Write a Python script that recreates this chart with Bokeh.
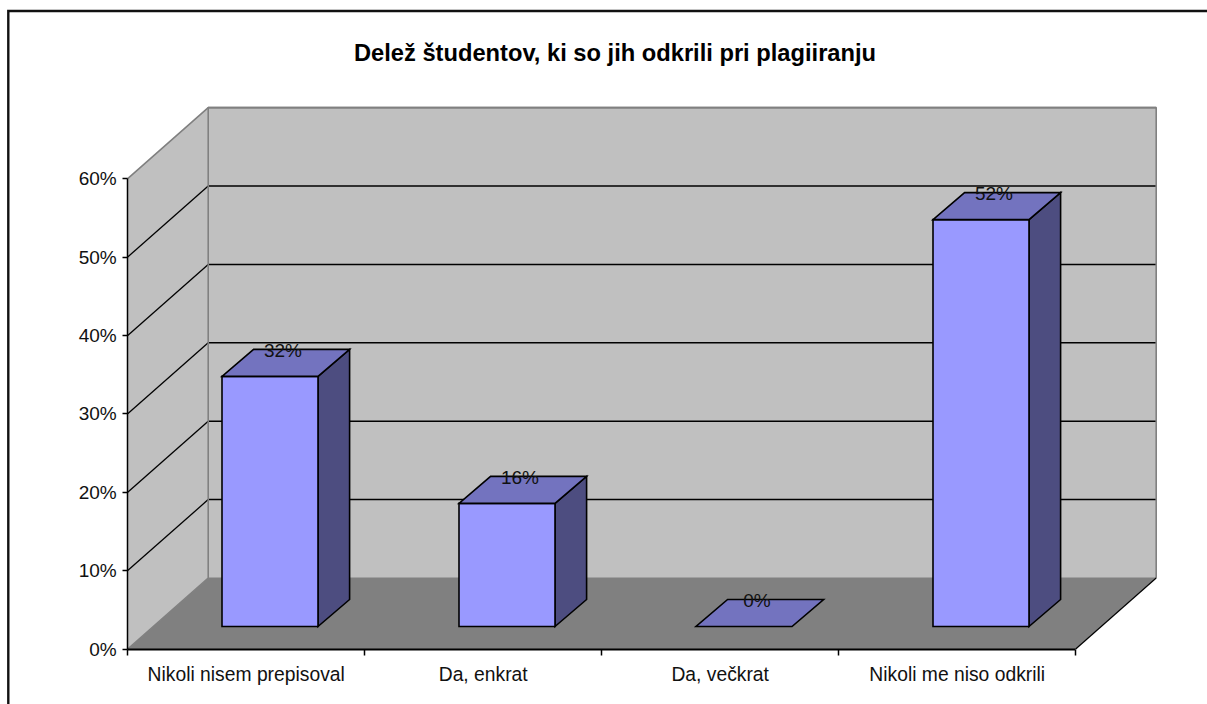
from bokeh.embed import file_html
from bokeh.resources import INLINE
from bokeh.plotting import figure
from bokeh.models import FixedTicker, PrintfTickFormatter, Range1d, Label, ColumnDataSource
from bokeh.core.properties import value

title_text = "Delež študentov, ki so jih odkrili pri plagiiranju"
categories = ["Nikoli nisem prepisoval", "Da, enkrat", "Da, večkrat", "Nikoli me niso odkrili"]
shares = [31.9, 15.7, 0, 51.9]
y_ticks = [0, 10, 20, 30, 40, 50, 60]

WIDTH, HEIGHT = 1207, 704
PX_X = 237.0            # pixels per category
PX_Y = 7.84             # pixels per percent
LEFT_PX, ZERO_PX = 127.2, 648.5   # position of the origin on the page
FONT = "Liberation Sans"

def dx(px):
    return px / PX_X

def dy(px):
    return px / PX_Y

DEPTH_X, DEPTH_Y = dx(80.5), dy(71)
n = len(categories)
ymax = y_ticks[-1]

p = figure(
    width=WIDTH, height=HEIGHT, output_backend="svg", toolbar_location=None,
    x_range=Range1d(-LEFT_PX / PX_X, (WIDTH - LEFT_PX) / PX_X),
    y_range=Range1d(-(HEIGHT - ZERO_PX) / PX_Y, ZERO_PX / PX_Y),
    min_border=0, background_fill_color="white", border_fill_color="white",
    margin=0,
)
p.outline_line_color = None
p.grid.visible = False

# chart frame: only its left and top edges fall inside the picture
frame_x = dx(7.8 - LEFT_PX)
frame_y = dy(ZERO_PX - 10.5)
p.line([frame_x, frame_x, dx(WIDTH - LEFT_PX)], [dy(ZERO_PX - HEIGHT), frame_y, frame_y],
       line_color="#111111", line_width=2.4, line_join="miter")

# floor and walls
p.patch([0, n, n + DEPTH_X, DEPTH_X], [0, 0, DEPTH_Y, DEPTH_Y], fill_color="#808080", line_color=None)
p.patch([0, DEPTH_X, DEPTH_X, 0], [0, DEPTH_Y, ymax + DEPTH_Y, ymax], fill_color="#C0C0C0", line_color=None)
p.patch([DEPTH_X, n + DEPTH_X, n + DEPTH_X, DEPTH_X], [DEPTH_Y, DEPTH_Y, ymax + DEPTH_Y, ymax + DEPTH_Y],
        fill_color="#C0C0C0", line_color=None)

# grid lines on both walls
grid = y_ticks[1:-1]
p.multi_line([[0, DEPTH_X] for _ in grid], [[t, t + DEPTH_Y] for t in grid], line_color="black", line_width=1.3)
p.multi_line([[DEPTH_X, n + DEPTH_X] for _ in grid], [[t + DEPTH_Y, t + DEPTH_Y] for t in grid],
             line_color="black", line_width=1.5)

# wall edges
edge = dict(line_color="#808080", line_width=1.6)
p.line([0, DEPTH_X, n + DEPTH_X, n + DEPTH_X], [ymax, ymax + DEPTH_Y, ymax + DEPTH_Y, DEPTH_Y], **edge)
p.line([0, DEPTH_X, DEPTH_X, n + DEPTH_X], [0, DEPTH_Y, ymax + DEPTH_Y, ymax + DEPTH_Y], **edge)
p.line([DEPTH_X, n + DEPTH_X], [DEPTH_Y, DEPTH_Y], line_color="#808080", line_width=1)
p.line([n, n + DEPTH_X], [0, DEPTH_Y], line_color="black", line_width=1.2)

# bars: front, side and top faces
BAR_W = dx(96)
BAR_LEFT = dx(94.3)
NEAR_Y = dy(22.5)
BAR_DX, BAR_DY = dx(31.6), dy(27)
bar = dict(line_color="black", line_width=1.6, line_join="miter")
for i, v in enumerate(shares):
    x0 = i + BAR_LEFT
    x1 = x0 + BAR_W
    y0 = NEAR_Y
    y1 = NEAR_Y + v
    if v > 0:
        p.patch([x1, x1 + BAR_DX, x1 + BAR_DX, x1], [y0, y0 + BAR_DY, y1 + BAR_DY, y1], fill_color="#4D4D80", **bar)
        p.patch([x0, x1, x1, x0], [y0, y0, y1, y1], fill_color="#9999FF", **bar)
    p.patch([x0, x1, x1 + BAR_DX, x0 + BAR_DX], [y1, y1, y1 + BAR_DY, y1 + BAR_DY], fill_color="#7373BF", **bar)

labels = ColumnDataSource(dict(
    x=[i + BAR_LEFT + dx(61) for i in range(n)],
    y=[NEAR_Y + v + BAR_DY - dy(1) for v in shares],
    text=[f"{v:.0f}%" for v in shares],
))
p.text("x", "y", "text", source=labels, text_font=value(FONT), text_font_size="19px",
       text_color="#111111", text_align="center", text_baseline="middle")

# axes placed at the origin of the chart
xa = p.xaxis[0]
xa.fixed_location = 0
xa.bounds = (0, n)
xa.ticker = FixedTicker(ticks=[i + 0.5 for i in range(n)], minor_ticks=list(range(n + 1)))
xa.major_label_overrides = {i + 0.5: c for i, c in enumerate(categories)}
xa.axis_line_color = "black"
xa.axis_line_width = 2
xa.major_tick_line_color = None
xa.major_tick_in = 0
xa.major_tick_out = 6
xa.minor_tick_line_color = "black"
xa.minor_tick_line_width = 1.5
xa.minor_tick_in = 0
xa.minor_tick_out = 6
xa.major_label_standoff = 9
xa.major_label_text_font = FONT
xa.major_label_text_font_size = "19.3px"
xa.major_label_text_color = "#111111"

ya = p.yaxis[0]
ya.fixed_location = 0
ya.bounds = (0, ymax)
ya.ticker = FixedTicker(ticks=y_ticks, minor_ticks=[])
ya.formatter = PrintfTickFormatter(format="%d%%")
ya.axis_line_color = "black"
ya.axis_line_width = 1.5
ya.major_tick_line_color = "black"
ya.major_tick_line_width = 1.5
ya.major_tick_in = 0
ya.major_tick_out = 5
ya.major_label_standoff = 6
ya.major_label_text_font = FONT
ya.major_label_text_font_size = "19px"
ya.major_label_text_color = "#111111"
ya.major_label_orientation = "horizontal"

p.add_layout(Label(x=dx(614.5 - LEFT_PX), y=dy(ZERO_PX - 52.5), text=title_text, text_font=FONT, text_font_size="23.7px",
                   text_font_style="bold", text_color="black", text_align="center", text_baseline="middle"))

open("out.html", "w").write(file_html(p, INLINE))
